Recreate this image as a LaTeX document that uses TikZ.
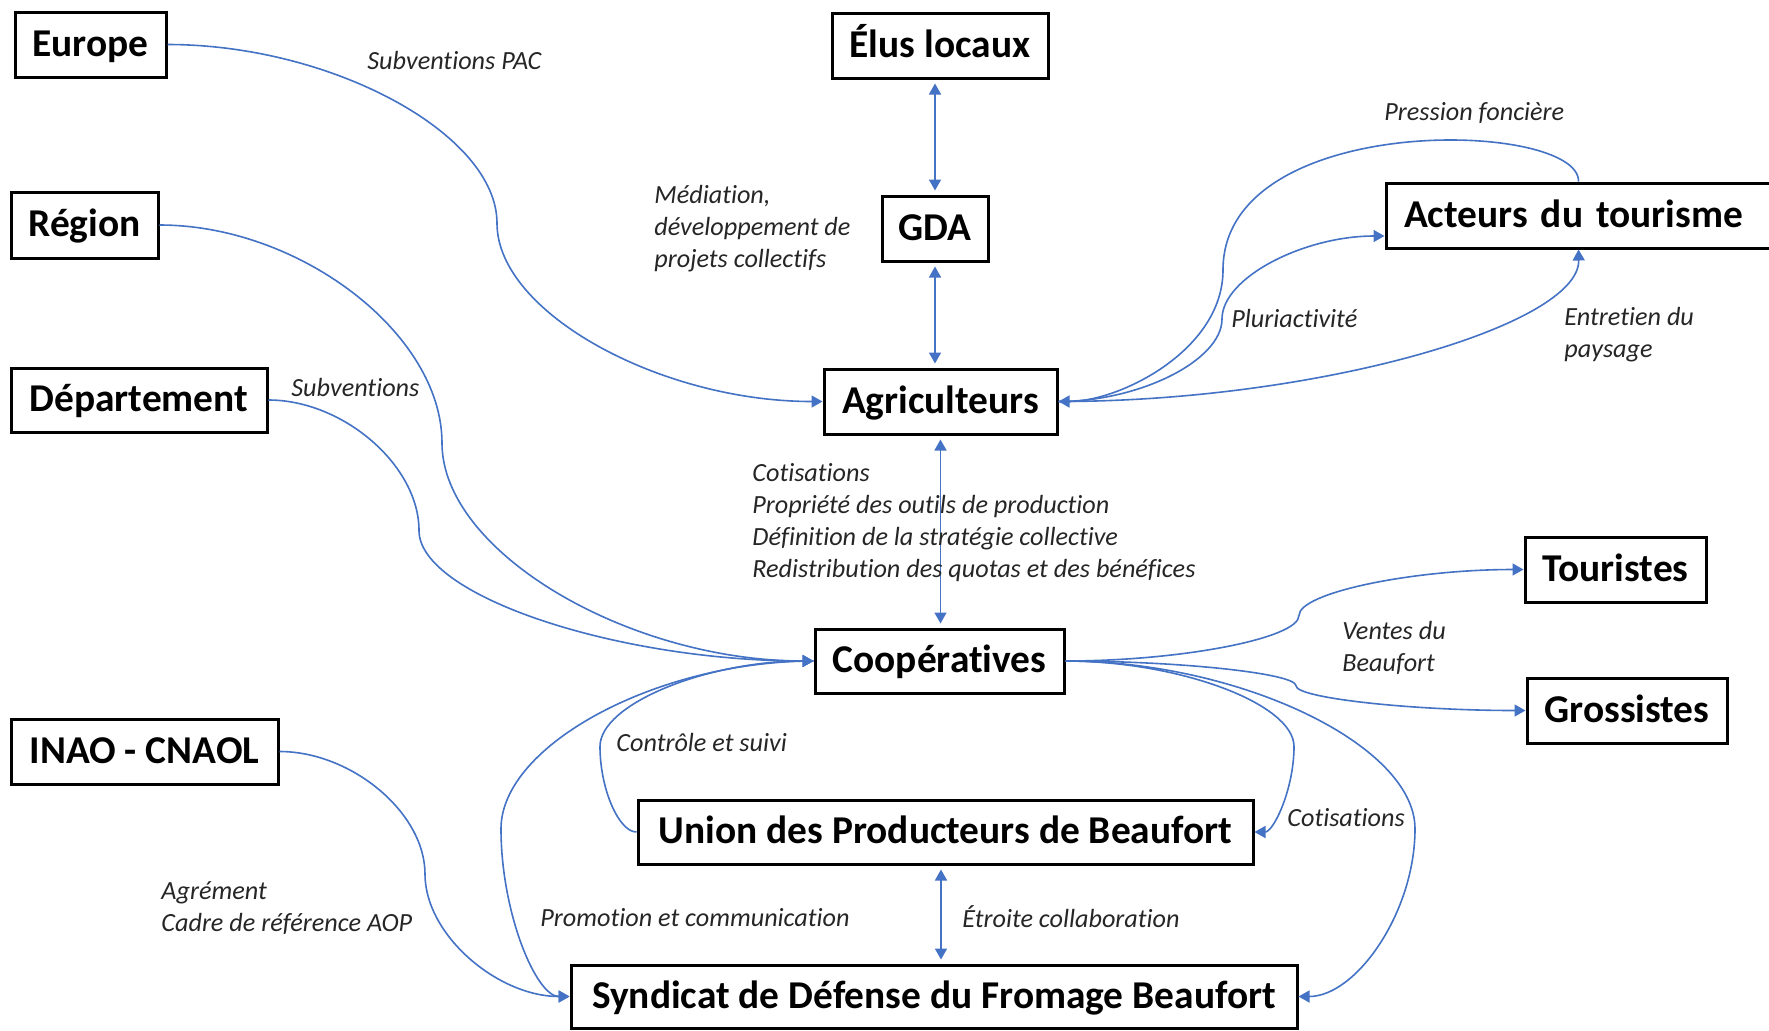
\documentclass[tikz,border=0pt]{standalone}
\usepackage{fontspec}
\setmainfont{Carlito}[Ligatures=NoCommon]
\usetikzlibrary{arrows.meta,calc}
\definecolor{conblue}{HTML}{4472C4}
\definecolor{labgray}{HTML}{262626}
\tikzset{
 box/.style={draw=black, line width=1.5pt, inner sep=0pt, text height=15.5pt, text depth=4pt, font=\fontsize{19.7}{23}\selectfont\bfseries, align=center},
 lab/.style={anchor=west, inner sep=0pt, align=left, text=labgray, font=\fontsize{13.1}{16}\selectfont\itshape},
 con/.style={draw=conblue, line width=0.8pt, -{Triangle[length=5.5pt,width=6pt]}},
 conboth/.style={draw=conblue, line width=0.8pt, {Triangle[length=5.5pt,width=6pt]}-{Triangle[length=5.5pt,width=6pt]}, shorten <=2pt, shorten >=2pt},
}
\begin{document}
\begin{tikzpicture}[x=0.5pt,y=-0.5pt]
\clip (0,0) rectangle (1769,1030);
\fill[white] (0,0) rectangle (1769,1030);
% nodes
\node[box, minimum width=75.5pt, minimum height=32.5pt] (europe) at (90.5,44.5) {Europe};
\node[box, minimum width=73.5pt, minimum height=33pt] (region) at (84.5,225) {Région};
\node[box, minimum width=128pt, minimum height=32pt] (dept) at (139,400) {Département};
\node[box, minimum width=133.5pt, minimum height=32.5pt] (inao) at (144.5,751.5) {INAO - CNAOL};
\node[box, minimum width=108pt, minimum height=32.5pt] (elus) at (940,45.5) {Élus locaux};
\node[box, minimum width=53pt, minimum height=32.5pt] (gda) at (935,228.5) {GDA};
\node[box, minimum width=116.5pt, minimum height=32.5pt] (agri) at (940.5,401.5) {Agriculteurs};
\node[box, minimum height=32.5pt, inner xsep=9pt, text width=184pt, align=left] (acteurs) at (1588,215.5) {Acteurs du tourisme};
\node[box, minimum width=90.5pt, minimum height=32.5pt] (touristes) at (1615.5,569.5) {Touristes};
\node[box, minimum width=100pt, minimum height=32.5pt] (grossistes) at (1627,710.5) {Grossistes};
\node[box, minimum width=124.5pt, minimum height=32pt] (coop) at (939.5,661) {Coopératives};
\node[box, minimum width=307.5pt, minimum height=32pt] (union) at (945.5,832) {Union des Producteurs de Beaufort};
\node[box, minimum width=363pt, minimum height=31.5pt] (synd) at (934,996.5) {Syndicat de Défense du Fromage Beaufort};
\coordinate (acttop) at ($(acteurs.north west)+(194,0)$);
\coordinate (actbot) at ($(acteurs.south west)+(194,0)$);
\coordinate (actleft) at ($(acteurs.west)+(0,20.5)$);
% connectors
\draw[con] (europe.east) .. controls (331.5,44.5) and (497,133.9) .. (497,223.25) .. controls (497,312.6) and (660.5,401.5) .. (agri.west);
\draw[con] (region.east) .. controls (300,225) and (442,334) .. (442,443) .. controls (442,552) and (628.5,661) .. (coop.west);
\draw[con] (dept.east) .. controls (343,400) and (419,465.25) .. (419,530.5) .. controls (419,595.75) and (617,661) .. (coop.west);
\draw[con] (inao.east) .. controls (351.5,751.5) and (425,812.75) .. (425,874) .. controls (425,935.25) and (498,996.5) .. (synd.west);
\draw[conboth] (gda.north) -- (gda.north |- elus.south);
\draw[conboth] (gda.south) -- (gda.south |- agri.north);
\draw[conboth] (agri.south) -- (agri.south |- coop.north);
\draw[conboth] ([xshift=-2.25pt]union.south) -- ([xshift=-2.25pt]union.south |- synd.north);
\draw[con] (acttop) .. controls (1580,120) and (1223,110) .. (1223,270) .. controls (1223,350) and (1120,401.5) .. (agri.east);
\draw[con] (agri.east) .. controls (1139.5,401.5) and (1222,360.5) .. (1222,319) .. controls (1222,277.5) and (1304,236) .. (actleft);
\draw[con] (agri.east) .. controls (1318.5,401.5) and (1580,325) .. (actbot);
\draw[con] (coop.east) .. controls (1181.5,661) and (1299,638.25) .. (1299,615.5) .. controls (1299,592.75) and (1412,569.5) .. (touristes.west);
\draw[con] (coop.east) .. controls (1180,661) and (1296,673.4) .. (1296,685.75) .. controls (1296,698.1) and (1411.5,710.5) .. (grossistes.west);
\draw[con] (coop.east) .. controls (1179,661) and (1294,703.75) .. (1294,746.5) .. controls (1294,789.25) and (1273.5,832) .. (union.east);
\draw[con] (coop.east) .. controls (1239.5,661) and (1415,744.9) .. (1415,828.75) .. controls (1415,912.6) and (1356,996.5) .. (synd.east);
\draw[con] (union.west) .. controls (619,832) and (600,789.25) .. (600,746.5) .. controls (600,703.75) and (707.5,661) .. (coop.west);
\draw[con] (coop.west) .. controls (658,661) and (501,744.9) .. (501,828.75) .. controls (501,912.6) and (536,996.5) .. (synd.west);
% labels
\node[lab] (lsubpac) at (367,60) {Subventions PAC};
\node[lab] (lsub) at (291,387) {Subventions};
\node[lab] (lmed) at (654,228.5) {Médiation,\\développement de\\projets collectifs};
\node[lab] (lpress) at (1384,113) {Pression foncière};
\node[lab] (lpluri) at (1231,318) {Pluriactivité};
\node[lab] (lentr) at (1564,334.5) {Entretien du\\paysage};
\node[lab] (lcotis) at (752,523) {Cotisations\\Propriété des outils de production\\Définition de la stratégie collective\\Redistribution des quotas et des bénéfices};
\node[lab] (lventes) at (1342,648) {Ventes du\\Beaufort};
\node[lab] (lctrl) at (616,742) {Contrôle et suivi};
\node[lab] (lcotis2) at (1287,818) {Cotisations};
\node[lab] (lpromo) at (540,918) {Promotion et communication};
\node[lab] (letroite) at (962,917) {Étroite collaboration};
\node[lab] (lagr) at (161,908.5) {Agrément\\Cadre de référence AOP};
\end{tikzpicture}
\end{document}
